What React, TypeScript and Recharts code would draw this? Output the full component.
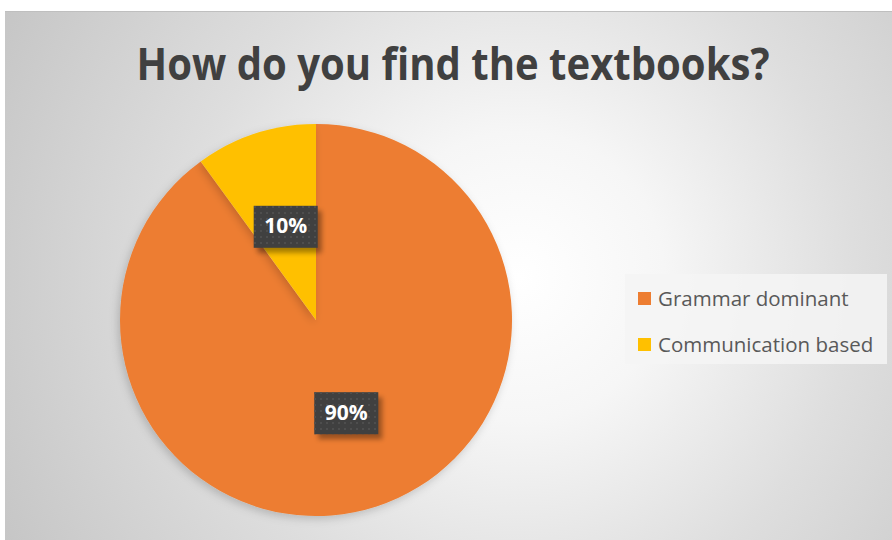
import { PieChart, Pie, Cell, Legend } from 'recharts';

const categories = ['Grammar dominant', 'Communication based'];
const shares = [90, 10];
const colors = ['#ED7D31', '#FFC000'];
const title = 'How do you find the textbooks?';

const data = categories.map((name, i) => ({ name, value: shares[i] }));

const RAD = Math.PI / 180;

const renderLabel = (props: any) => {
  const { cx, cy, midAngle, outerRadius, percent } = props;
  const r = outerRadius * 0.5;
  const x = cx + r * Math.cos(-midAngle * RAD);
  const y = cy + r * Math.sin(-midAngle * RAD);
  const w = 64;
  const h = 42;
  return (
    <g>
      <rect x={x - w / 2 + 4} y={y - h / 2 + 5} width={w} height={h} fill="#000" opacity={0.35} filter="url(#lblBlur)" />
      <rect x={x - w / 2} y={y - h / 2} width={w} height={h} fill="#404040" />
      <rect x={x - w / 2} y={y - h / 2} width={w} height={h} fill="url(#dots)" />
      <text
        x={x}
        y={y + 1}
        textAnchor="middle"
        dominantBaseline="middle"
        fill="#FFFFFF"
        fontFamily="'Open Sans', sans-serif"
        fontWeight={700}
        fontSize={21}
      >
        {`${Math.round(percent * 100)}%`}
      </text>
    </g>
  );
};

const LegendBox = () => (
  <div
    style={{
      width: 262,
      height: 90,
      background: 'rgba(244,244,244,0.85)',
      boxSizing: 'border-box',
      padding: '8px 0 0 13px',
      fontFamily: "'Open Sans', sans-serif",
      fontSize: 20.5,
      color: '#595959',
    }}
  >
    {categories.map((c, i) => (
      <div key={c} style={{ display: 'flex', alignItems: 'center', height: 32, marginBottom: i === 0 ? 14 : 0 }}>
        <span style={{ width: 13, height: 13, background: colors[i], marginRight: 7, display: 'inline-block', flex: 'none' }} />
        <span style={{ whiteSpace: 'nowrap' }}>{c}</span>
      </div>
    ))}
  </div>
);

export default function App() {
  return (
    <div style={{ position: 'fixed', left: 0, top: 0, width: 892, height: 540, background: '#FFFFFF' }}>
      <div
        style={{
          position: 'absolute',
          left: 5,
          top: 11,
          width: 887,
          height: 529,
          background:
            'radial-gradient(circle farthest-corner at 58% 50%, #FFFFFF 0%, #F6F6F6 25%, #DEDEDE 58%, #C6C6C6 100%)',
          borderTop: '1px solid #BFBFBF',
        }}
      />
      <svg style={{ position: 'absolute', left: 0, top: 0 }} width={892} height={110}>
        <text
          x={453}
          y={80}
          textAnchor="middle"
          fill="#404040"
          fontFamily="'Open Sans', sans-serif"
          fontWeight={700}
          fontSize={44}
          textLength={633}
          lengthAdjust="spacingAndGlyphs"
        >
          {title}
        </text>
      </svg>
      <div style={{ position: 'absolute', left: 0, top: 0 }}>
        <PieChart width={892} height={540} margin={{ top: 0, right: 0, bottom: 0, left: 0 }}>
          <defs>
            <filter id="lblBlur" x="-20%" y="-20%" width="140%" height="140%">
              <feGaussianBlur stdDeviation="2.5" />
            </filter>
            <pattern id="dots" width="6" height="6" patternUnits="userSpaceOnUse">
              <rect x="2" y="2" width="2" height="2" fill="#4E4E4E" />
            </pattern>
            <filter id="pieShadow" x="-10%" y="-10%" width="120%" height="120%">
              <feDropShadow dx="-2" dy="3" stdDeviation="4" floodColor="#000" floodOpacity="0.18" />
            </filter>
          </defs>
          <Pie
            data={data}
            dataKey="value"
            nameKey="name"
            cx={316}
            cy={320}
            outerRadius={196}
            startAngle={90}
            endAngle={-270}
            stroke="none"
            label={renderLabel}
            labelLine={false}
            isAnimationActive={false}
            style={{ filter: 'url(#pieShadow)' }}
          >
            {data.map((d, i) => (
              <Cell key={d.name} fill={colors[i]} />
            ))}
          </Pie>
          <Legend
            content={<LegendBox />}
            wrapperStyle={{ position: 'absolute', left: 625, top: 274, width: 262, height: 90 }}
          />
        </PieChart>
      </div>
    </div>
  );
}
